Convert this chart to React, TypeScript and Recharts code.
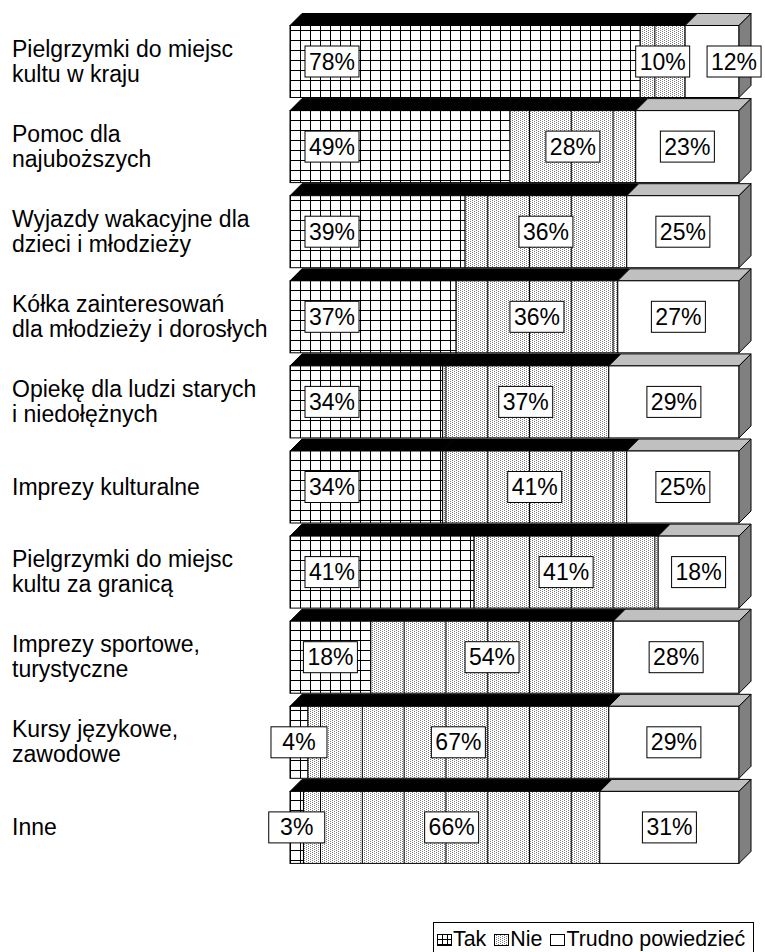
import React from 'react';
import { BarChart, Bar, XAxis, YAxis, LabelList } from 'recharts';

const categories = [
  'Pielgrzymki do miejsc\nkultu w kraju',
  'Pomoc dla\nnajuboższych',
  'Wyjazdy wakacyjne dla\ndzieci i młodzieży',
  'Kółka zainteresowań\ndla młodzieży i dorosłych',
  'Opiekę dla ludzi starych\ni niedołężnych',
  'Imprezy kulturalne',
  'Pielgrzymki do miejsc\nkultu za granicą',
  'Imprezy sportowe,\nturystyczne',
  'Kursy językowe,\nzawodowe',
  'Inne',
];
const tak = [78, 49, 39, 37, 34, 34, 41, 18, 4, 3];
const nie = [10, 28, 36, 36, 37, 41, 41, 54, 67, 66];
const trudno = [12, 23, 25, 27, 29, 25, 18, 28, 29, 31];
const seriesNames = ['Tak', 'Nie', 'Trudno powiedzieć'];

const data = categories.map((name, i) => ({ name, tak: tak[i], nie: nie[i], trudno: trudno[i] }));

const FONT = '"Liberation Sans", Arial, sans-serif';
const DEPTH = 12;

function Patterns() {
  return (
    <defs>
      <pattern id="takGrid" patternUnits="userSpaceOnUse" x={290} y={0} width={10} height={10}>
        <rect width={10} height={10} fill="#fff" />
        <path d="M0.5 0V10M0 0.5H10" stroke="#000" strokeWidth={1} />
      </pattern>
      <pattern id="nieDots" patternUnits="userSpaceOnUse" width={4} height={4}>
        <rect width={4} height={4} fill="#fff" />
        <rect x={0} y={0} width={1} height={1} fill="#7a7a7a" />
        <rect x={2} y={1} width={1} height={1} fill="#7a7a7a" />
        <rect x={0} y={2} width={1} height={1} fill="#7a7a7a" />
        <rect x={2} y={3} width={1} height={1} fill="#7a7a7a" />
      </pattern>
      <pattern id="nieLines" patternUnits="userSpaceOnUse" x={320} y={0} width={41.8} height={10}>
        <path d="M0.5 0V10" stroke="#000" strokeWidth={1} />
      </pattern>
    </defs>
  );
}

function Segment(props: any) {
  const { x, y, width: w, height: h, kind } = props;
  if (w == null || h == null) return null;
  const d = DEPTH;
  const topFill = kind === 2 ? '#c0c0c0' : '#000';
  return (
    <g>
      <polygon
        points={`${x},${y} ${x + w},${y} ${x + w + d},${y - d} ${x + d},${y - d}`}
        fill={topFill}
        stroke="#000"
        strokeWidth={1}
      />
      {kind === 0 && <rect x={x} y={y} width={w} height={h} fill="url(#takGrid)" stroke="#000" />}
      {kind === 1 && (
        <>
          <rect x={x} y={y} width={w} height={h} fill="url(#nieDots)" />
          <rect x={x} y={y} width={w} height={h} fill="url(#nieLines)" stroke="#000" />
        </>
      )}
      {kind === 2 && (
        <>
          <rect x={x} y={y} width={w} height={h} fill="#fff" stroke="#000" />
          <polygon
            points={`${x + w},${y} ${x + w + d},${y - d} ${x + w + d},${y + h - d} ${x + w},${y + h}`}
            fill="#808080"
            stroke="#000"
            strokeWidth={1}
          />
        </>
      )}
    </g>
  );
}

function ValueLabel(props: any) {
  const vb = props.viewBox || props;
  const x = vb.x ?? props.x;
  const y = vb.y ?? props.y;
  const w = vb.width ?? props.width;
  const h = vb.height ?? props.height;
  const kind = props.kind;
  const text = `${props.value}%`;
  let cx = x + w / 2;
  if (kind === 0) cx = x + Math.min(w / 2, 42);
  if (kind === 2 && w < 65) cx = x + w / 2 + 22;
  const cy = y + h / 2;
  const bw = text.length < 3 ? 56 : 54;
  const bh = 31;
  return (
    <g>
      <rect x={cx - bw / 2} y={cy - bh / 2} width={bw} height={bh} fill="#fff" stroke="#000" />
      <text x={cx} y={cy + 8} textAnchor="middle" fontSize={23} fontFamily={FONT} fill="#000">
        {text}
      </text>
    </g>
  );
}

function CategoryTick(props: any) {
  const { y, payload } = props;
  const lines = String(payload.value).split('\n');
  const lh = 25;
  const y0 = y - ((lines.length - 1) * lh) / 2;
  return (
    <text x={12} y={y0} fontSize={23} fontFamily={FONT} fill="#000" textAnchor="start">
      {lines.map((l, i) => (
        <tspan key={i} x={12} y={y0 + i * lh + 8}>
          {l}
        </tspan>
      ))}
    </text>
  );
}

function Swatch({ kind }: { kind: number }) {
  const fill = kind === 0 ? 'url(#legTak)' : kind === 1 ? 'url(#nieDots)' : '#fff';
  return (
    <svg width={15} height={12} style={{ marginRight: 1, verticalAlign: 'baseline' }}>
      <defs>
        <pattern id="legTak" patternUnits="userSpaceOnUse" width={5} height={5}>
          <rect width={5} height={5} fill="#fff" />
          <path d="M0.5 0V5M0 0.5H5" stroke="#000" />
        </pattern>
      </defs>
      <rect x={0.5} y={0.5} width={14} height={11} fill={fill} stroke="#000" />
    </svg>
  );
}

export default function App() {
  return (
    <div style={{ position: 'absolute', left: 0, top: 0, width: 765, height: 952, background: '#fff', overflow: 'hidden' }}>
      <BarChart
        width={765}
        height={952}
        data={data}
        layout="vertical"
        margin={{ top: 18.5, right: 26, bottom: 82.5, left: 0 }}
        barSize={72}
      >
        <Patterns />
        <XAxis type="number" domain={[0, 100]} hide />
        <YAxis type="category" dataKey="name" width={290} axisLine={false} tickLine={false} tick={<CategoryTick />} interval={0} />
        <Bar dataKey="tak" name={seriesNames[0]} stackId="s" isAnimationActive={false} shape={(p: any) => <Segment {...p} kind={0} />}>
          <LabelList dataKey="tak" content={(p: any) => <ValueLabel {...p} kind={0} />} />
        </Bar>
        <Bar dataKey="nie" name={seriesNames[1]} stackId="s" isAnimationActive={false} shape={(p: any) => <Segment {...p} kind={1} />}>
          <LabelList dataKey="nie" content={(p: any) => <ValueLabel {...p} kind={1} />} />
        </Bar>
        <Bar dataKey="trudno" name={seriesNames[2]} stackId="s" isAnimationActive={false} shape={(p: any) => <Segment {...p} kind={2} />}>
          <LabelList dataKey="trudno" content={(p: any) => <ValueLabel {...p} kind={2} />} />
        </Bar>
      </BarChart>
      <div
        style={{
          position: 'absolute',
          left: 433,
          top: 922,
          width: 316,
          height: 40,
          border: '1px solid #000',
          fontFamily: FONT,
          fontSize: 21.4,
          lineHeight: '32px',
          paddingLeft: 3,
          whiteSpace: 'nowrap',
          color: '#000',
        }}
      >
        {seriesNames.map((n, i) => (
          <span key={n} style={{ marginRight: 8 }}>
            <Swatch kind={i} />
            {n}
          </span>
        ))}
      </div>
    </div>
  );
}
